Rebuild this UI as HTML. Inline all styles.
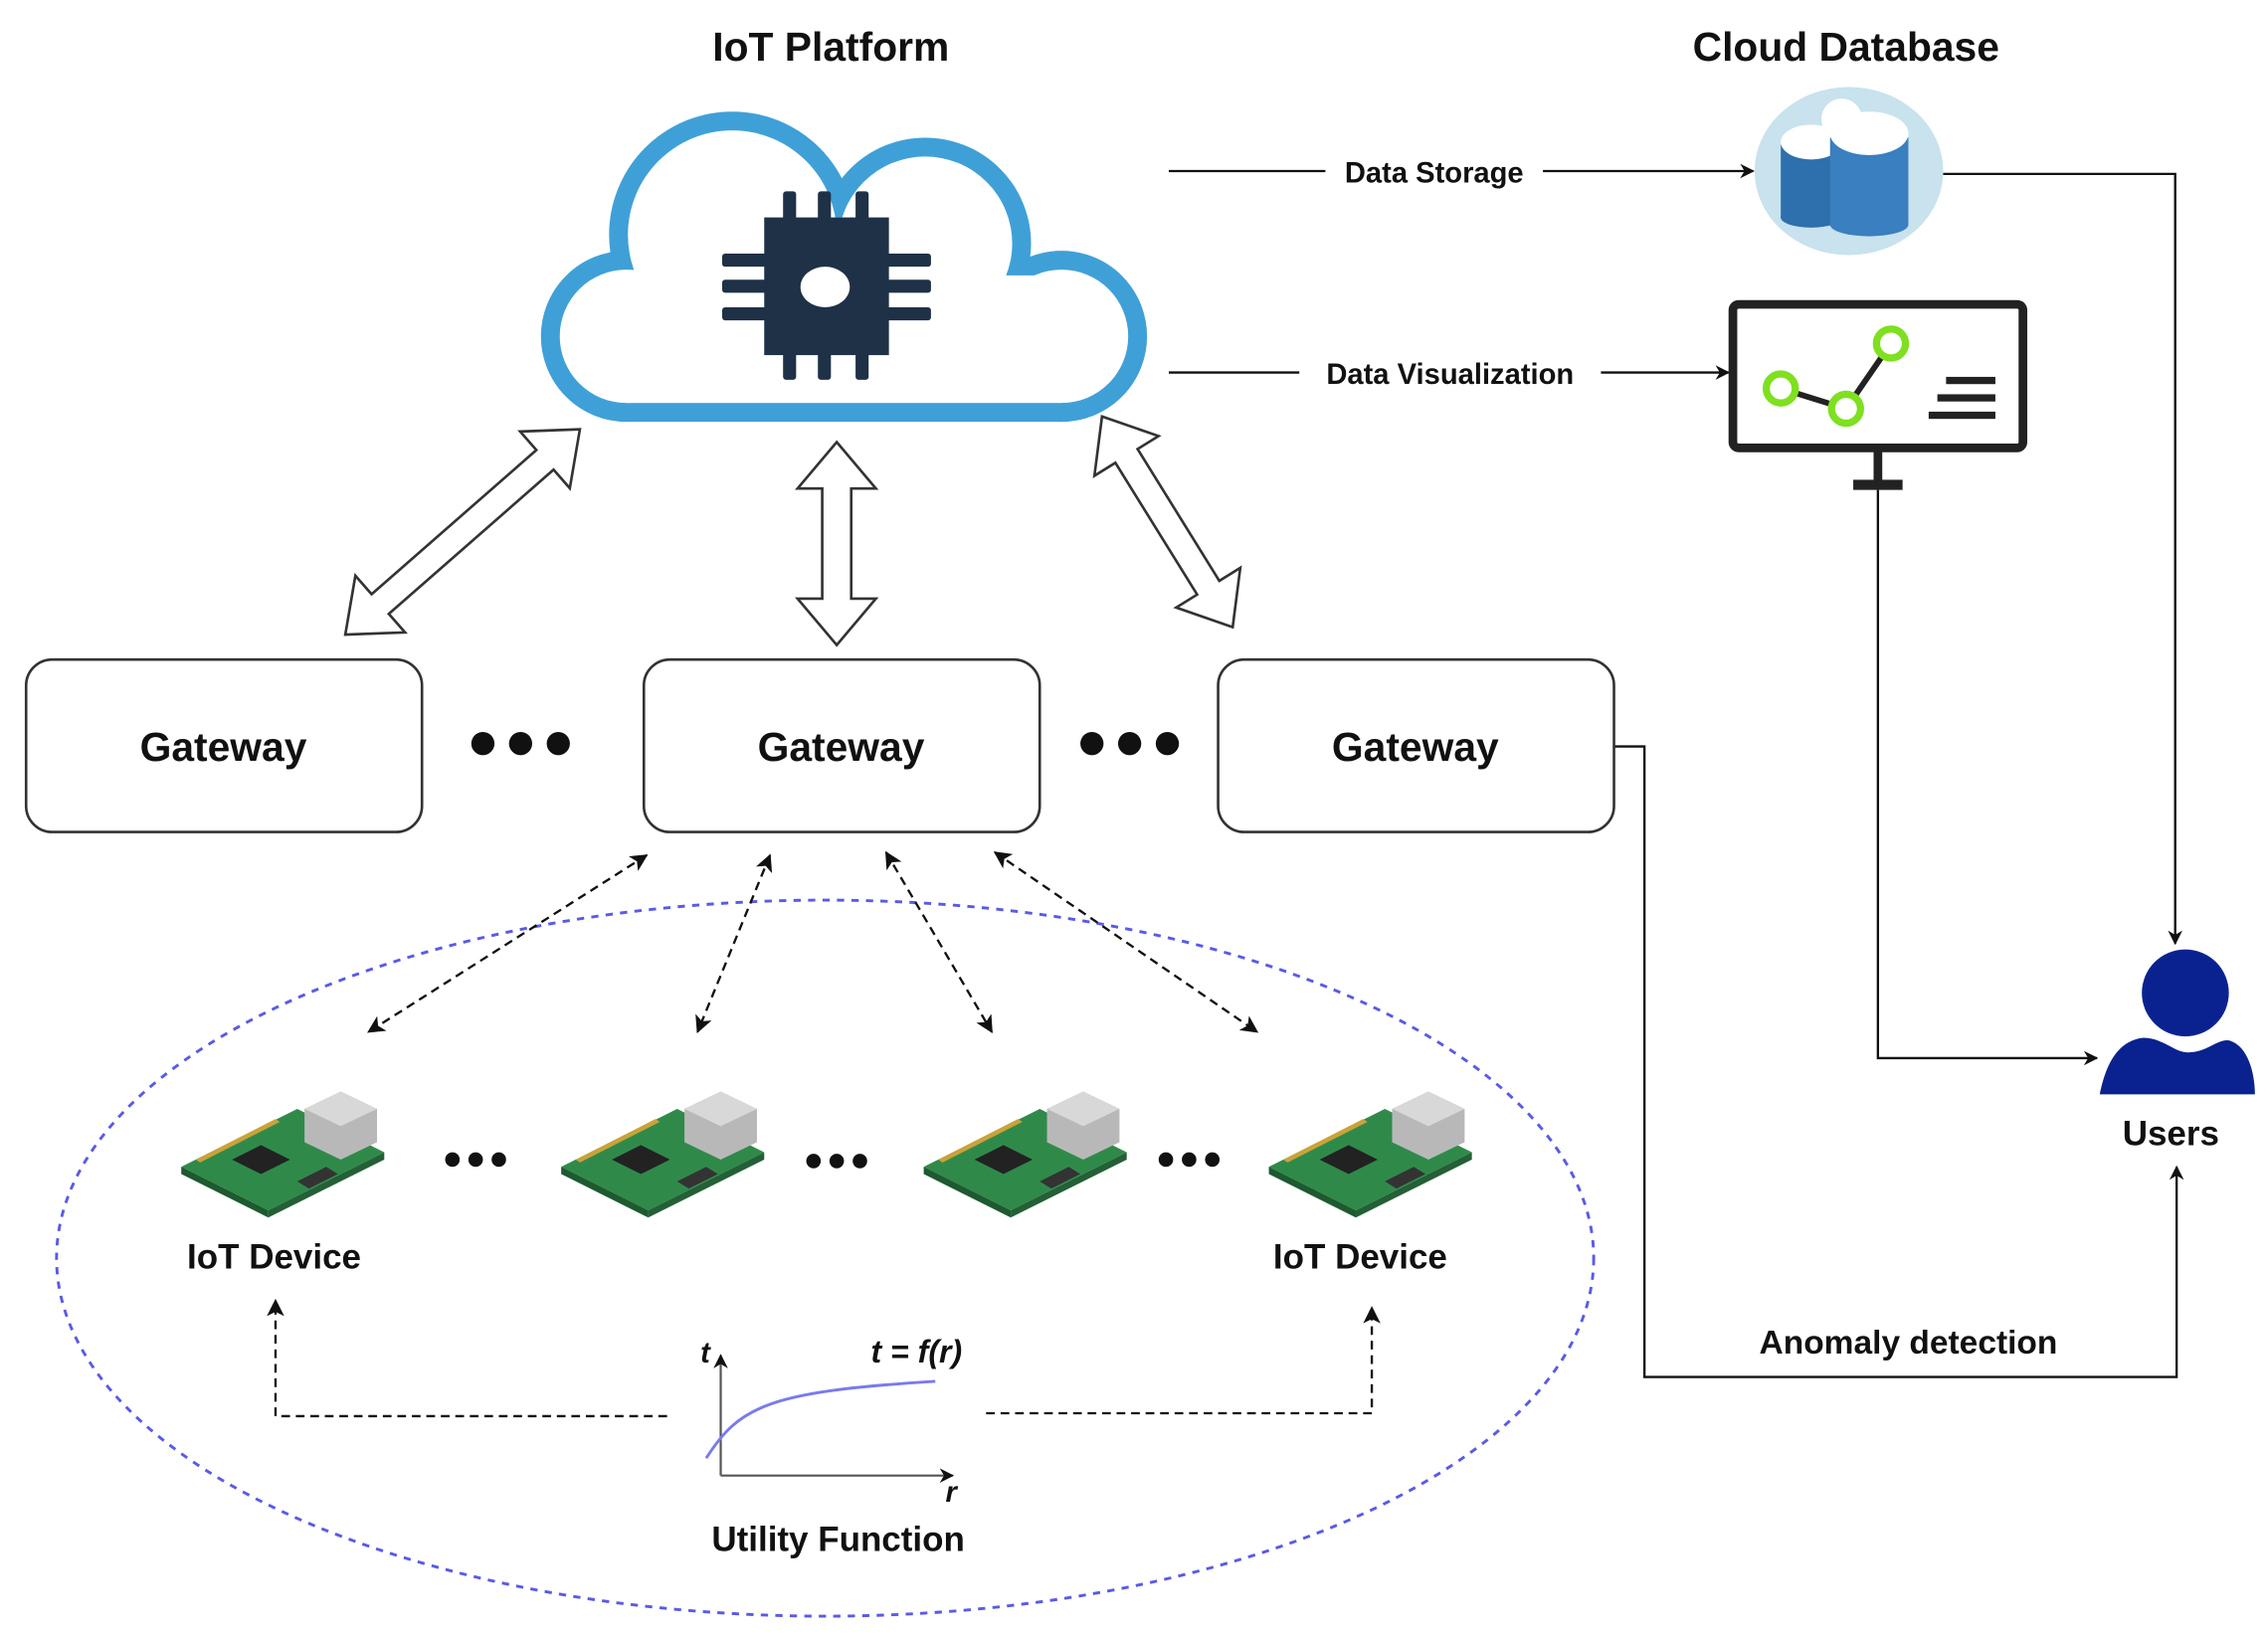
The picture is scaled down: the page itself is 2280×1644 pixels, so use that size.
<!DOCTYPE html>
<html><head><meta charset="utf-8"><style>
html,body{margin:0;padding:0;background:#fff;}
svg{display:block;}
text{font-family:"Liberation Sans",Arial,sans-serif;font-weight:bold;fill:#111;}
</style></head><body>
<svg width="2280" height="1644" viewBox="0 0 1564 1128" preserveAspectRatio="none" xmlns="http://www.w3.org/2000/svg">
<defs>
<marker id="ah" markerWidth="10" markerHeight="10" refX="9" refY="5" orient="auto" markerUnits="userSpaceOnUse"><path d="M0,0 L10,5 L0,10 L3,5 Z" fill="#111"/></marker>
<marker id="ahs" markerWidth="12" markerHeight="12" refX="11" refY="6" orient="auto-start-reverse" markerUnits="userSpaceOnUse"><path d="M0,0 L12,6 L0,12 L3,6 Z" fill="#111"/></marker>
<g id="pi">
 <polygon points="-70,5 10,-35 70,-5 -10,35" fill="#2f8a4a"/>
 <polygon points="-70,5 -10,35 -10,40 -70,10" fill="#1d5a30"/>
 <polygon points="-10,35 70,-5 70,0 -10,40" fill="#245f36"/>
 <polygon points="-35,0 -15,-10 5,0 -15,10" fill="#222"/>
 <polygon points="15,-35 40,-47 65,-35 65,-12 40,0 15,-12" fill="#b8b8b8"/>
 <polygon points="15,-35 40,-47 65,-35 40,-23" fill="#d8d8d8"/>
 <polygon points="-60,0 -5,-28 -2,-26 -57,2" fill="#c9a23a"/>
 <polygon points="10,15 30,5 38,10 18,20" fill="#333"/>
</g>
<g id="cloudshape">
 <rect x="432" y="190" width="300" height="88"/>
 <circle cx="432" cy="232" r="46"/>
 <circle cx="732" cy="232" r="46"/>
 <circle cx="505" cy="162" r="72"/>
 <circle cx="638" cy="168" r="60"/>
 <rect x="505" y="150" width="140" height="60"/>
</g>
</defs>

<text x="573" y="42" font-size="28" text-anchor="middle">IoT Platform</text>
<text x="1273" y="42" font-size="28" text-anchor="middle">Cloud Database</text>

<!-- cloud -->
<use href="#cloudshape" fill="#3fa0d8" stroke="#3fa0d8" stroke-width="26" stroke-linejoin="round"/>
<use href="#cloudshape" fill="#fff"/>
<!-- chip -->
<g fill="#1e3147">
 <rect x="540" y="132" width="9" height="130" rx="2"/>
 <rect x="564" y="132" width="9" height="130" rx="2"/>
 <rect x="590" y="132" width="9" height="130" rx="2"/>
 <rect x="498" y="175" width="144" height="9" rx="2"/>
 <rect x="498" y="193" width="144" height="9" rx="2"/>
 <rect x="498" y="212" width="144" height="9" rx="2"/>
 <rect x="527" y="150" width="86" height="95"/>
</g>
<ellipse cx="569" cy="198" rx="17" ry="14" fill="#fff"/>

<!-- data storage / visualization -->
<line x1="806" y1="118" x2="1209" y2="118" stroke="#111" stroke-width="1.6" marker-end="url(#ah)"/>
<rect x="914" y="106" width="150" height="24" fill="#fff"/>
<text x="989" y="126" font-size="20" text-anchor="middle">Data Storage</text>
<line x1="806" y1="257" x2="1192" y2="257" stroke="#111" stroke-width="1.6" marker-end="url(#ah)"/>
<rect x="896" y="245" width="208" height="24" fill="#fff"/>
<text x="1000" y="265" font-size="20" text-anchor="middle">Data Visualization</text>

<!-- database -->
<ellipse cx="1275" cy="118" rx="65" ry="58" fill="#c8e2ee"/>
<rect x="1228" y="100" width="42" height="50" fill="#2e6fae"/>
<ellipse cx="1249" cy="150" rx="21" ry="7" fill="#2e6fae"/>
<ellipse cx="1249" cy="98" rx="21" ry="12" fill="#fff"/>
<rect x="1262" y="95" width="54" height="60" fill="#3a7fbf"/>
<ellipse cx="1289" cy="155" rx="27" ry="8" fill="#3a7fbf"/>
<ellipse cx="1289" cy="92" rx="27" ry="15" fill="#fff"/>
<circle cx="1270" cy="82" r="14" fill="#fff"/>

<!-- monitor -->
<rect x="1195" y="210" width="200" height="99" rx="4" fill="#fff" stroke="#222" stroke-width="6"/>
<rect x="1292" y="311" width="6" height="22" fill="#222"/>
<rect x="1278" y="331" width="34" height="7" fill="#222"/>
<polyline points="1228,268 1273,282 1304,237" fill="none" stroke="#222" stroke-width="4"/>
<circle cx="1228" cy="268" r="10" fill="#fff" stroke="#7ee020" stroke-width="5"/>
<circle cx="1273" cy="282" r="10" fill="#fff" stroke="#7ee020" stroke-width="5"/>
<circle cx="1304" cy="237" r="10" fill="#fff" stroke="#7ee020" stroke-width="5"/>
<rect x="1342" y="260" width="34" height="5" fill="#222"/>
<rect x="1336" y="272" width="40" height="5" fill="#222"/>
<rect x="1330" y="284" width="46" height="5" fill="#222"/>

<!-- lines to users -->
<polyline points="1340,120 1500,120 1500,651" fill="none" stroke="#111" stroke-width="1.6" marker-end="url(#ah)"/>
<polyline points="1295,338 1295,730 1446,730" fill="none" stroke="#111" stroke-width="1.6" marker-end="url(#ah)"/>
<polyline points="1113,515 1134,515 1134,950 1501,950 1501,805" fill="none" stroke="#111" stroke-width="1.6" marker-end="url(#ah)"/>
<text x="1316" y="934" font-size="23" text-anchor="middle">Anomaly  detection</text>

<!-- users -->
<circle cx="1507" cy="685" r="30" fill="#0a2290"/>
<path d="M1448,755 C1452,735 1460,718 1478,716 C1492,716 1500,727 1510,726 C1522,726 1530,716 1538,718 C1550,722 1555,740 1555,755 Z" fill="#0a2290"/>
<text x="1497" y="790" font-size="24" text-anchor="middle">Users</text>

<!-- gateways -->
<g fill="#fff" stroke="#333" stroke-width="1.8">
<rect x="18" y="455" width="273" height="119" rx="18"/>
<rect x="444" y="455" width="273" height="119" rx="18"/>
<rect x="840" y="455" width="273" height="119" rx="18"/>
</g>
<text x="154" y="525" font-size="28" text-anchor="middle">Gateway</text>
<text x="580" y="525" font-size="28" text-anchor="middle">Gateway</text>
<text x="976" y="525" font-size="28" text-anchor="middle">Gateway</text>
<g fill="#111">
<circle cx="333" cy="513" r="8"/><circle cx="359" cy="513" r="8"/><circle cx="385" cy="513" r="8"/>
<circle cx="753" cy="513" r="8"/><circle cx="779" cy="513" r="8"/><circle cx="805" cy="513" r="8"/>
</g>

<!-- hollow double arrows -->
<g fill="#fff" stroke="#333" stroke-width="1.8" stroke-linejoin="miter">
<polygon transform="translate(319,367) rotate(-41.2)" points="-107.5,0 -75.5,-26 -75.5,-9 75.5,-9 75.5,-26 107.5,0 75.5,26 75.5,9 -75.5,9 -75.5,26"/>
<polygon transform="translate(577,375) rotate(90)" points="-70,0 -38,-27 -38,-10 38,-10 38,-27 70,0 38,27 38,10 -38,10 -38,27"/>
<polygon transform="translate(805,360) rotate(58.2)" points="-85.5,0 -53.5,-26 -53.5,-9 53.5,-9 53.5,-26 85.5,0 53.5,26 53.5,9 -53.5,9 -53.5,26"/>
</g>

<!-- device ellipse -->
<ellipse cx="569" cy="868" rx="530" ry="247" fill="none" stroke="#5a5ae6" stroke-width="2" stroke-dasharray="5,5"/>

<!-- dashed double arrows -->
<g stroke="#111" stroke-width="1.6" stroke-dasharray="6,4" fill="none">
<line x1="446" y1="590" x2="254" y2="712" marker-start="url(#ahs)" marker-end="url(#ahs)"/>
<line x1="531" y1="590" x2="481" y2="712" marker-start="url(#ahs)" marker-end="url(#ahs)"/>
<line x1="611" y1="588" x2="684" y2="712" marker-start="url(#ahs)" marker-end="url(#ahs)"/>
<line x1="686" y1="588" x2="867" y2="712" marker-start="url(#ahs)" marker-end="url(#ahs)"/>
<polyline points="460,977 190,977 190,897" marker-end="url(#ahs)"/>
<polyline points="680,975 946,975 946,902" marker-end="url(#ahs)"/>
</g>

<!-- pis -->
<use href="#pi" x="195" y="800"/>
<use href="#pi" x="457" y="800"/>
<use href="#pi" x="707" y="800"/>
<use href="#pi" x="945" y="800"/>
<g fill="#111">
<circle cx="312" cy="800" r="5"/><circle cx="328" cy="800" r="5"/><circle cx="344" cy="800" r="5"/>
<circle cx="561" cy="801" r="5"/><circle cx="577" cy="801" r="5"/><circle cx="593" cy="801" r="5"/>
<circle cx="804" cy="800" r="5"/><circle cx="820" cy="800" r="5"/><circle cx="836" cy="800" r="5"/>
</g>
<text x="189" y="875" font-size="24" text-anchor="middle">IoT Device</text>
<text x="938" y="875" font-size="24" text-anchor="middle">IoT Device</text>

<!-- utility graph -->
<line x1="497" y1="1018" x2="497" y2="935" stroke="#555" stroke-width="1.5" marker-end="url(#ah)"/>
<line x1="497" y1="1018" x2="657" y2="1018" stroke="#555" stroke-width="1.5" marker-end="url(#ah)"/>
<path d="M487,1006 C510,970 530,960 645,953" fill="none" stroke="#7a7aee" stroke-width="2"/>
<text x="483" y="940" font-size="20" font-family="Liberation Serif" font-style="italic" font-weight="normal" fill="#666">t</text>
<text x="632" y="940" font-size="22" font-family="Liberation Serif" font-style="italic" font-weight="normal" fill="#666" text-anchor="middle">t = f(r)</text>
<text x="652" y="1036" font-size="20" font-family="Liberation Serif" font-style="italic" font-weight="normal" fill="#666">r</text>
<text x="578" y="1070" font-size="24" text-anchor="middle">Utility Function</text>
</svg>
</body></html>
